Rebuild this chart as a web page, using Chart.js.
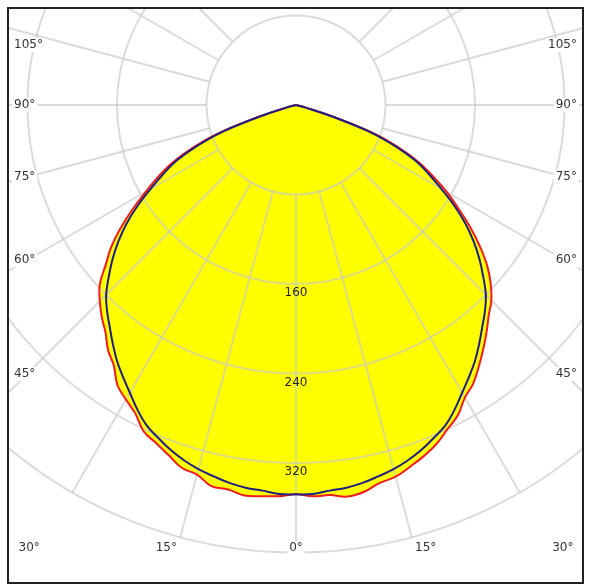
<!DOCTYPE html>
<html>
<head>
<meta charset="utf-8">
<script src="https://cdn.jsdelivr.net/npm/chart.js@4.4.1/dist/chart.umd.min.js"></script>
<style>
  body { margin: 0; background: #fff; }
  #frame { position: absolute; left: 7px; top: 7px; width: 577px; height: 577px;
           border: 2px solid #222; box-sizing: border-box; overflow: hidden; }
  canvas { position: absolute; left: 0; top: 0; }
</style>
</head>
<body>
<div id="frame"><canvas id="polar" width="573" height="573"></canvas></div>
<script>
// gamma angles (deg from nadir) and intensities (cd)
const angles = [0, 2.5, 5, 7.5, 10, 12.5, 15, 17.5, 20, 22.5, 25, 27.5, 30, 32.5, 35, 37.5,
  40, 42.5, 45, 47.5, 50, 52.5, 55, 57.5, 60, 62.5, 65, 67.5, 70, 72.5, 75, 77.5, 80, 82.5, 85, 87.5, 90];

// C0-C180 plane (red, filled)
const redLeft = [348, 350, 351, 352, 349, 349, 342, 340, 333, 327, 322, 311, 304, 297, 284, 276,
  265, 257, 248, 238, 222, 208, 191, 173, 155, 139, 122, 100, 74, 35, 11, 3, 0, 0, 0, 0, 0];
const redRight = [348, 350, 350, 353, 351, 346, 344, 339, 334, 328, 320, 313, 302, 295, 285, 275,
  265, 255, 247, 236, 223, 207, 190, 172, 156, 138, 121, 99, 73, 34, 10, 3, 0, 0, 0, 0, 0];

// C90-C270 plane (blue)
const blue = [348, 348, 346, 345, 343, 340, 337, 333, 328, 322, 316, 307, 297, 288, 279, 269,
  259, 250, 240, 227, 214, 200, 185, 168, 150, 134, 118, 96, 70, 32, 9, 2, 0, 0, 0, 0, 0];

const rings = [80, 160, 240, 320, 400];
const ringLabels = [160, 240, 320];
const spokes = [-135, -120, -105, -90, -75, -60, -45, -30, -15, 0, 15, 30, 45, 60, 75, 90, 105, 120, 135];
const sideLabels = [105, 90, 75, 60, 45];
const bottomLabels = [30, 15, 0];

const rad = d => d * Math.PI / 180;

// left half from 90 deg down to nadir, then right half back up
function polarPoints(left, right) {
  const pts = [];
  for (let i = angles.length - 1; i >= 0; i--) {
    pts.push({ x: -left[i] * Math.sin(rad(angles[i])), y: -left[i] * Math.cos(rad(angles[i])) });
  }
  for (let i = 1; i < angles.length; i++) {
    pts.push({ x: right[i] * Math.sin(rad(angles[i])), y: -right[i] * Math.cos(rad(angles[i])) });
  }
  return pts;
}

// layout: 89.5 px per 80 cd, pole at (287, 96) in the canvas
const pxPerCd = 89.5 / 80;
const size = 573, poleX = 287, poleY = 96;

const polarGrid = {
  id: 'polarGrid',
  afterDatasetDraw(chart, args) {
    if (args.index !== 2) return;   // after the yellow fill, before the lines
    const { ctx, chartArea, scales: { x, y } } = chart;
    const cx = x.getPixelForValue(0), cy = y.getPixelForValue(0);
    const k = x.getPixelForValue(100) - cx;
    ctx.save();
    ctx.beginPath();
    ctx.rect(chartArea.left, chartArea.top, chartArea.width, chartArea.height);
    ctx.clip();
    ctx.strokeStyle = 'rgba(200,200,200,0.65)';
    ctx.lineWidth = 2;
    rings.forEach(r => {
      ctx.beginPath();
      ctx.arc(cx, cy, r * k / 100, 0, Math.PI * 2);
      ctx.stroke();
    });
    spokes.forEach(a => {
      const s = Math.sin(rad(a)), c = Math.cos(rad(a));
      const r0 = rings[0] * k / 100, r1 = rings[rings.length - 1] * k / 100;
      ctx.beginPath();
      ctx.moveTo(cx - s * r0, cy + c * r0);
      ctx.lineTo(cx - s * r1, cy + c * r1);
      ctx.stroke();
    });
    ctx.restore();
  },
  afterDatasetsDraw(chart) {
    const { ctx, chartArea, scales: { x, y } } = chart;
    const cx = x.getPixelForValue(0), cy = y.getPixelForValue(0);
    const k = x.getPixelForValue(100) - cx;
    ctx.save();
    ctx.font = '12px "DejaVu Sans", Verdana, sans-serif';
    ctx.textBaseline = 'middle';

    ctx.fillStyle = '#222';
    ctx.textAlign = 'center';
    ringLabels.forEach(r => ctx.fillText(String(r), cx, cy + r * k / 100 + 9));

    const tag = (txt, tx, ty, align) => {
      const w = ctx.measureText(txt).width;
      const left = align === 'left' ? tx : align === 'right' ? tx - w : tx - w / 2;
      ctx.fillStyle = '#fff';
      ctx.fillRect(left - 2, ty - 7, w + 4, 14);
      ctx.fillStyle = '#333';
      ctx.textAlign = align;
      ctx.fillText(txt, tx, ty);
    };

    const colX = 18;   // label column centre, from each side
    sideLabels.forEach(a => {
      const s = Math.sin(rad(a)), c = Math.cos(rad(a));
      let ty = cy + (cx - chartArea.left - colX) / s * c;
      ty = Math.max(ty, chartArea.top + 36);
      tag(a + '°', chartArea.left + 5, ty, 'left');
      tag(a + '°', chartArea.right - 5, ty, 'right');
    });

    const rowY = chartArea.top + 539;
    bottomLabels.forEach(a => {
      const t = (rowY - cy) / Math.cos(rad(a));
      const dx = t * Math.sin(rad(a));
      const shift = a === 0 ? 0 : 11;
      tag(a + '°', cx - dx - shift, rowY, 'center');
      if (a !== 0) tag(a + '°', cx + dx + shift, rowY, 'center');
    });
    ctx.restore();
  }
};

new Chart(document.getElementById('polar'), {
  type: 'scatter',
  data: {
    datasets: [
      {
        label: 'C90-C270',
        data: polarPoints(blue, blue),
        showLine: true,
        borderColor: '#1f1f80',
        borderWidth: 2,
        fill: false
      },
      {
        label: 'C0-C180',
        data: polarPoints(redLeft, redRight),
        showLine: true,
        borderColor: '#ee1c1c',
        borderWidth: 2,
        fill: false
      },
      {
        label: 'fill',
        data: polarPoints(redLeft, redRight),
        showLine: true,
        borderWidth: 0,
        borderColor: 'rgba(0,0,0,0)',
        backgroundColor: '#ffff00',
        fill: 'shape'
      }
    ]
  },
  options: {
    responsive: false,
    animation: false,
    devicePixelRatio: 1,
    layout: { padding: 0 },
    elements: { point: { radius: 0 }, line: { tension: 0.4 } },
    plugins: { legend: { display: false }, tooltip: { enabled: false } },
    scales: {
      x: { type: 'linear', display: false, min: -poleX / pxPerCd, max: (size - poleX) / pxPerCd },
      y: { type: 'linear', display: false, min: -(size - poleY) / pxPerCd, max: poleY / pxPerCd }
    }
  },
  plugins: [polarGrid]
});
</script>
</body>
</html>
